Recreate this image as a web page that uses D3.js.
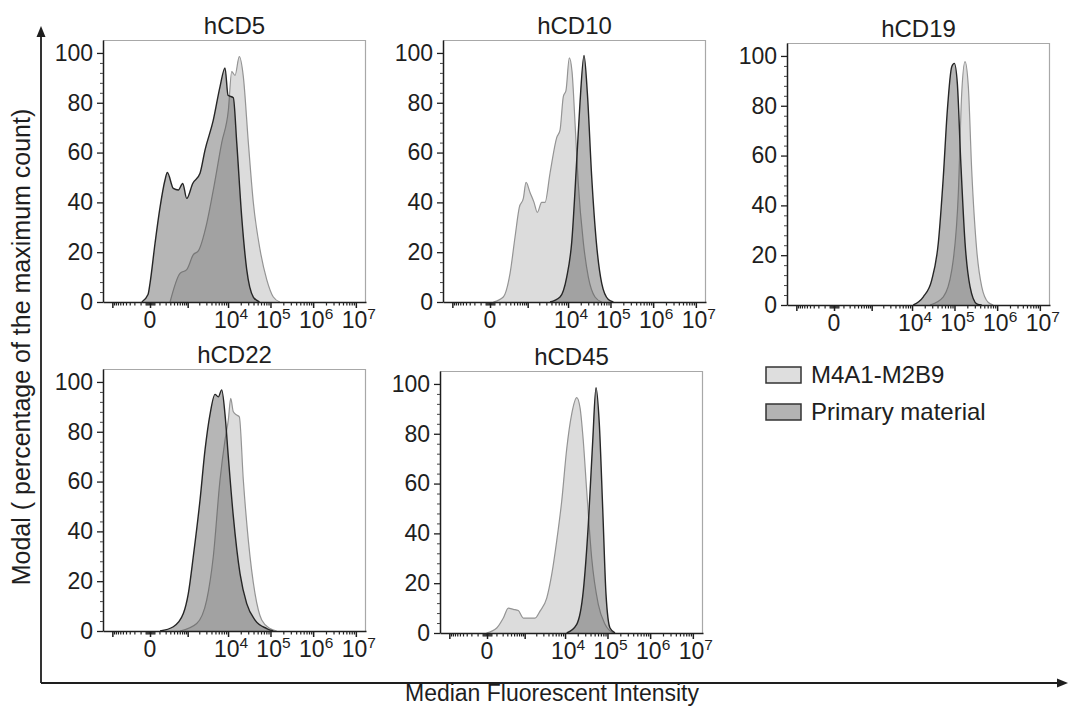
<!DOCTYPE html>
<html lang="en">
<head>
<meta charset="UTF-8">
<title>Marker histograms</title>
<script src="https://d3js.org/d3.v7.min.js"></script>
<style>
  body { margin: 0; background: #fff; }
  svg text { font-family: "Liberation Sans", Arial, sans-serif; fill: #1e1e1e; }
</style>
</head>
<body>
<div id="chart"></div>
<script>
const panelNames = ["hCD5", "hCD10", "hCD19", "hCD22", "hCD45"];
const seriesNames = ["M4A1-M2B9", "Primary material"];

// histograms: [fluorescence intensity, % of max count]
const cd5Model = [[294,0],[610,11.5],[943,13],[1410,19],[1890,20.5],[3070,31.6],[4440,45],[7070,64],[10170,77],[12230,92.5],[14650,91],[18500,98.5],[23000,90.5],[30200,64],[39540,40],[56900,21],[81700,9],[116700,2],[166000,0]];
const cd5Primary = [[-84,0],[-17,3],[0,7.5],[47,23.6],[108,38],[188,49],[233,52],[380,45.6],[544,45],[730,47.6],[943,41.6],[1360,47.6],[2090,51.7],[2780,61],[4430,73],[6440,86.5],[8470,94],[10000,83],[13350,82],[16080,64],[21100,34],[27660,13],[39540,2],[55300,0]];

const cd10Model = [[30,0],[158,2],[294,11.5],[430,26],[582,38],[760,41.6],[903,48],[1155,44],[1470,40],[1785,36],[2300,40],[2780,40],[3690,51.7],[5360,66],[6440,69],[7720,82.5],[8950,85],[10730,98],[12440,92.5],[14650,72],[17420,48],[23000,24],[30200,10],[43370,2],[62300,0]];
const cd10Primary = [[3690,0],[6440,2],[9300,10],[12230,24],[16080,57],[19200,80],[23900,99],[28600,84],[36300,50],[46600,24],[62300,7.5],[89200,1],[117000,0]];

const cd19Model = [[26600,0],[54700,3.3],[86250,14],[123200,45],[147800,85],[176800,97.7],[211200,87.7],[253700,54],[332600,22],[434900,7.4],[621200,1],[813100,0]];
const cd19Primary = [[10720,0],[18510,3.3],[29200,10],[41770,25],[54700,51.5],[67900,78],[86250,95.7],[99200,97],[116700,89],[140100,58],[176800,25],[231600,7.4],[332600,0.5],[434900,0]];

const cd22Model = [[610,0],[1724,3],[3065,12.5],[4440,30],[6430,60.6],[8471,76.7],[10150,84.7],[11580,93.4],[13350,88],[16050,86.7],[18510,86],[22990,60.6],[30150,36.5],[43370,15],[62300,4.4],[97546,1],[140100,0]];
const cd22Primary = [[108,0],[380,1.7],[759,7],[1040,15],[1410,30],[2090,52.6],[2783,72.7],[3690,87],[4879,95],[5860,94],[7070,96.8],[8471,87],[10150,70],[13350,46],[19220,23],[27660,11],[43370,4.4],[81700,1],[116700,0]];

const cd45Model = [[-5,0],[104,2],[213,6],[325,10],[473,9.5],[666,9],[919,6],[1250,6],[1860,6],[2483,8.8],[3630,14],[4800,23.5],[6330,37],[8340,53],[10970,74],[14410,88],[18910,94.5],[22620,90.5],[27060,77],[32550,57],[42650,30],[60900,11.5],[87600,3.5],[137100,0]];
const cd45Primary = [[10970,0],[18910,3.5],[27060,17],[35480,43.6],[45000,77],[53800,98.5],[64300,84],[77300,50],[92400,15.5],[114760,2],[150200,0]];

const yTicks = [0, 20, 40, 60, 80, 100];
const xLabelTicks = [0, 1e4, 1e5, 1e6, 1e7];
const xMajorTicks = [-1000, 0, 1000, 1e4, 1e5, 1e6, 1e7];

const panels = [
    { name: panelNames[0], left: 103, top: 40,  model: cd5Model,  primary: cd5Primary },
    { name: panelNames[1], left: 443, top: 40,  model: cd10Model, primary: cd10Primary },
    { name: panelNames[2], left: 787, top: 43,  model: cd19Model, primary: cd19Primary },
    { name: panelNames[3], left: 103, top: 369, model: cd22Model, primary: cd22Primary },
    { name: panelNames[4], left: 440, top: 371, model: cd45Model, primary: cd45Primary }
];

const width = 1076, height = 709;
const pw = 263, ph = 262;

const svg = d3.select("#chart").append("svg")
    .attr("width", width)
    .attr("height", height);

const x = d3.scaleSymlog().constant(151).domain([-1755, 1.73e7]).range([0, pw]);
const y = d3.scaleLinear().domain([0, 105.2]).range([ph, 0]);

// minor ticks for the biexponential axis
const xMinorTicks = [];
[-40, -30, -20, -10, 10, 20, 30, 40].forEach(v => xMinorTicks.push(v));
for (let k = 1; k <= 9; k++) xMinorTicks.push(-k * 100);
[100, 1000, 10000, 100000, 1000000].forEach(d => {
    for (let k = 1; k <= 9; k++) {
        const v = k * d;
        if (!xMajorTicks.includes(v)) xMinorTicks.push(v);
    }
});
const yMinorTicks = d3.range(0, 101, 4).filter(v => !yTicks.includes(v));

const area = d3.area()
    .x(d => x(d[0]))
    .y0(y(0))
    .y1(d => y(d[1]))
    .curve(d3.curveMonotoneX);
const line = d3.line()
    .x(d => x(d[0]))
    .y(d => y(d[1]))
    .curve(d3.curveMonotoneX);

panels.forEach(p => {
    const g = svg.append("g").attr("transform", `translate(${p.left},${p.top})`);

    // histograms
    g.append("path").datum(p.model).attr("d", area).attr("fill", "#dcdcdc");
    g.append("path").datum(p.model).attr("d", line)
        .attr("fill", "none").attr("stroke", "#949494").attr("stroke-width", 1.2);
    g.append("path").datum(p.primary).attr("d", area).attr("fill", "rgba(80,80,80,0.42)");
    g.append("path").datum(p.primary).attr("d", line)
        .attr("fill", "none").attr("stroke", "#262626").attr("stroke-width", 1.4);

    // frame top and right
    g.append("path")
        .attr("d", `M0,0.5H${pw - 0.5}V${ph}`)
        .attr("fill", "none").attr("stroke", "#a8a8a8").attr("stroke-width", 1.2);

    // y axis
    const ya = g.append("g")
        .call(d3.axisLeft(y).tickValues(yTicks).tickSize(6).tickSizeOuter(0).tickPadding(4));
    ya.attr("font-size", 23).attr("font-family", null);
    ya.select(".domain").attr("stroke", "#1e1e1e").attr("stroke-width", 1.5);
    ya.selectAll(".tick line").attr("stroke", "#1e1e1e").attr("stroke-width", 1.3);
    ya.selectAll(".tick text").attr("fill", "#1e1e1e");
    const ym = g.append("g")
        .call(d3.axisLeft(y).tickValues(yMinorTicks).tickSize(3).tickFormat(""));
    ym.select(".domain").remove();
    ym.selectAll(".tick line").attr("stroke", "#444");

    // x axis
    const xa = g.append("g").attr("transform", `translate(0,${ph})`)
        .call(d3.axisBottom(x).tickValues(xMajorTicks).tickSize(6).tickSizeOuter(0).tickFormat(""));
    xa.select(".domain").attr("stroke", "#1e1e1e").attr("stroke-width", 1.5);
    xa.selectAll(".tick line").attr("stroke", "#1e1e1e").attr("stroke-width", 1.5);
    const xm = g.append("g").attr("transform", `translate(0,${ph})`)
        .call(d3.axisBottom(x).tickValues(xMinorTicks).tickSize(3.5).tickFormat(""));
    xm.select(".domain").remove();
    xm.selectAll(".tick line").attr("stroke", "#222").attr("stroke-width", 1.2);

    xLabelTicks.forEach(v => {
        const t = g.append("text")
            .attr("x", x(v) + (v === 0 ? 0 : 3))
            .attr("y", ph + 26)
            .attr("text-anchor", "middle")
            .attr("font-size", 23);
        if (v === 0) {
            t.text("0");
        } else {
            t.append("tspan").text("10");
            t.append("tspan").attr("dy", -9).attr("font-size", 15.5)
                .text(Math.round(Math.log10(v)));
        }
    });

    // title
    g.append("text")
        .attr("x", pw / 2)
        .attr("y", -6)
        .attr("text-anchor", "middle")
        .attr("font-size", 24)
        .text(p.name);
});

// shared axes arrows
svg.append("path")
    .attr("d", "M41,683V34 M41,683H1060")
    .attr("fill", "none").attr("stroke", "#1e1e1e").attr("stroke-width", 1.8);
svg.append("path").attr("d", "M41,26L36.5,37H45.5Z").attr("fill", "#1e1e1e");
svg.append("path").attr("d", "M1068,683L1057,678.5V687.5Z").attr("fill", "#1e1e1e");

svg.append("text")
    .attr("transform", "translate(21,347) rotate(-90)")
    .attr("text-anchor", "middle")
    .attr("dy", "0.35em")
    .attr("font-size", 25)
    .text("Modal ( percentage of the maximum count)");

svg.append("text")
    .attr("x", 552)
    .attr("y", 701)
    .attr("text-anchor", "middle")
    .attr("font-size", 23)
    .text("Median Fluorescent Intensity");

// legend
const legendFills = ["#dedede", "#b3b3b3"];
const legend = svg.selectAll(".legend")
    .data(seriesNames)
    .enter().append("g")
    .attr("class", "legend")
    .attr("transform", (d, i) => `translate(766,${367 + i * 37})`);
legend.append("rect")
    .attr("width", 35).attr("height", 16)
    .attr("fill", (d, i) => legendFills[i])
    .attr("stroke", "#333").attr("stroke-width", 1.5);
legend.append("text")
    .attr("x", 45).attr("y", 16)
    .attr("font-size", 24)
    .text(d => d);
</script>
</body>
</html>
